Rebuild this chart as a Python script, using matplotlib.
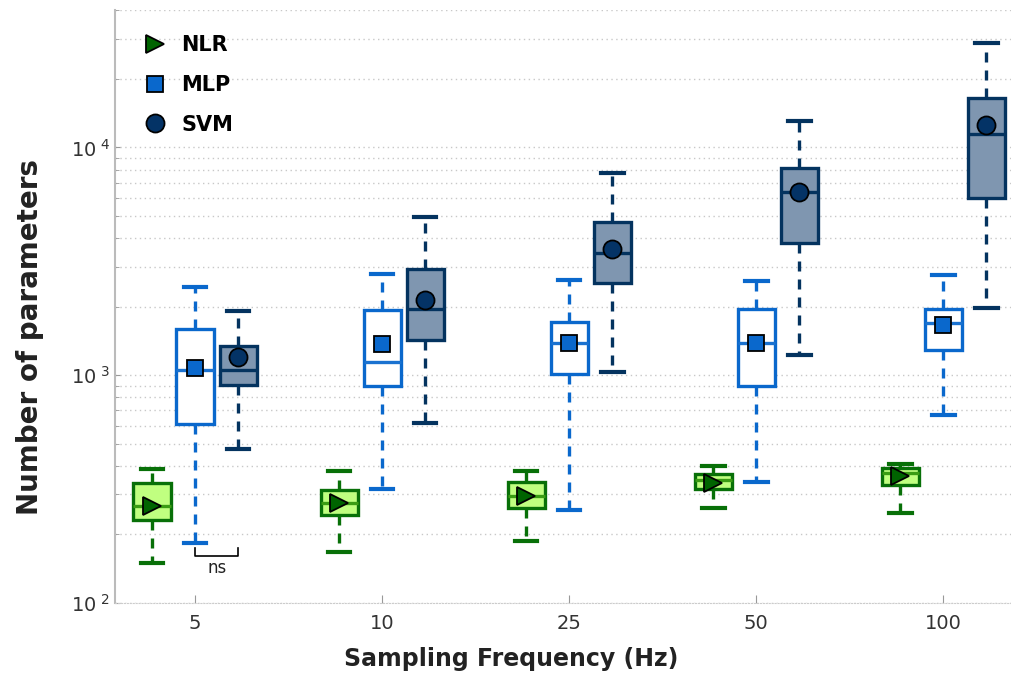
import matplotlib.pyplot as plt
from matplotlib.lines import Line2D

# frequencias e estatisticas de cada caixa
freqs = ['5', '10', '25', '50', '100']

nlr_low = [150, 168, 188, 261, 248]
nlr_q1 = [232, 244, 261, 316, 330]
nlr_med = [267, 276, 295, 347, 372]
nlr_q3 = [338, 314, 341, 368, 391]
nlr_high = [388, 378, 378, 400, 408]
nlr_mean = [267, 276, 295, 336, 362]

mlp_low = [184, 316, 256, 341, 666]
mlp_q1 = [610, 899, 1015, 899, 1285]
mlp_med = [1057, 1138, 1385, 1380, 1696]
mlp_q3 = [1600, 1941, 1713, 1954, 1954]
mlp_high = [2432, 2774, 2611, 2603, 2766]
mlp_mean = [1081, 1371, 1385, 1380, 1662]

svm_low = [474, 620, 1029, 1231, 1974]
svm_q1 = [902, 1432, 2543, 3812, 6010]
svm_med = [1057, 1960, 3444, 6362, 11410]
svm_q3 = [1349, 2930, 4715, 8143, 16540]
svm_high = [1905, 4959, 7688, 13020, 28660]
svm_mean = [1197, 2147, 3587, 6362, 12500]


def stats(low, q1, med, q3, high, mean):
    return [dict(whislo=a, q1=b, med=c, q3=d, whishi=e, mean=f, fliers=[])
            for a, b, c, d, e, f in zip(low, q1, med, q3, high, mean)]


modelos = [
    ('NLR', stats(nlr_low, nlr_q1, nlr_med, nlr_q3, nlr_high, nlr_mean), -0.23,
     '#c0ff80', '#087008', '#3a9c14', '>', '#006400', 13),
    ('MLP', stats(mlp_low, mlp_q1, mlp_med, mlp_q3, mlp_high, mlp_mean), 0.0,
     'white', '#0a68cc', '#1a72d0', 's', '#0a68cc', 11),
    ('SVM', stats(svm_low, svm_q1, svm_med, svm_q3, svm_high, svm_mean), 0.23,
     '#7f96b0', '#04335f', '#04335f', 'o', '#043366', 13),
]

fig = plt.figure(figsize=(10.11, 6.75), dpi=100)
ax = fig.add_axes([0.1137, 0.1067, 0.886, 0.878])
ax.set_yscale('log')

pos_base = list(range(1, len(freqs) + 1))
handles = []
for nome, st, off, fill, edge, medc, mk, mkc, ms in modelos:
    pos = [p + off for p in pos_base]
    ax.bxp(st, positions=pos, widths=0.2, capwidths=0.12, showmeans=True,
           showfliers=False, patch_artist=True,
           boxprops=dict(facecolor=fill, edgecolor=edge, linewidth=2.4),
           whiskerprops=dict(color=edge, linewidth=2.4, linestyle=(0, (3, 2.4))),
           capprops=dict(color=edge, linewidth=3),
           medianprops=dict(color=medc, linewidth=2.4),
           meanprops=dict(marker=mk, markerfacecolor=mkc, markeredgecolor='black',
                          markeredgewidth=1.3, markersize=ms),
           zorder=3)
    handles.append(Line2D([], [], linestyle='none', marker=mk, markerfacecolor=mkc,
                          markeredgecolor='black', markeredgewidth=1.3, markersize=ms,
                          label=nome))

ax.set_xlim(0.571, 5.36)
ax.set_ylim(100, 40000)
ax.set_xticks(pos_base)
ax.set_xticklabels(freqs)
ax.set_yticks([100, 1000, 10000])
ax.set_yticklabels(['10$^{\\ 2}$', '10$^{\\ 3}$', '10$^{\\ 4}$'])

ax.grid(True, which='both', axis='y', linestyle=(0, (1, 2.5)), color='#c8c8c8', linewidth=1)
ax.set_axisbelow(True)
ax.tick_params(axis='both', which='both', direction='in', colors='#999999',
               labelcolor='#333333', labelsize=14)
ax.tick_params(axis='y', which='minor', length=3)
ax.tick_params(axis='x', length=6, pad=8)
for s in ['top', 'right']:
    ax.spines[s].set_visible(False)
ax.spines['left'].set_color('#bbbbbb')
ax.spines['left'].set_linewidth(1.5)
ax.spines['bottom'].set_color('#cccccc')
ax.spines['bottom'].set_linestyle(':')

ax.set_xlabel('Sampling Frequency (Hz)', fontsize=17, fontweight='bold', color='#222222')
ax.set_ylabel('Number of parameters', fontsize=20, fontweight='bold', color='#222222')
ax.xaxis.set_label_coords(0.442, -0.074)
ax.yaxis.set_label_coords(-0.079, 0.449)

# marca "ns" entre MLP e SVM em 5 Hz
ax.plot([1.0, 1.0, 1.23, 1.23], [174, 161, 161, 174], color='black', linewidth=1.2)
ax.text(1.115, 142, 'ns', ha='center', va='center', fontsize=12, color='#222222')

ax.legend(handles=handles, loc='upper left', frameon=False,
          prop=dict(weight='bold', size=15), handletextpad=0.3, labelspacing=0.95,
          bbox_to_anchor=(0.0, 0.99))

fig.savefig('out.png', dpi=100)
